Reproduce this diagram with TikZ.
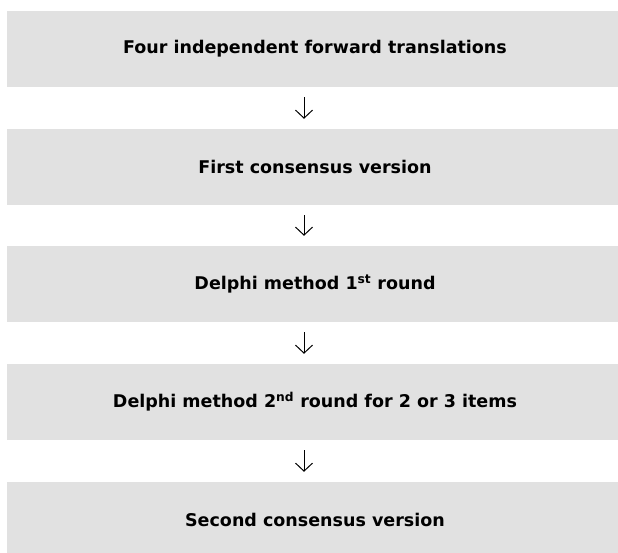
\documentclass[tikz,border=0pt]{standalone}
\usepackage{fontspec}
\setmainfont{DejaVu Sans}
\usetikzlibrary{arrows.meta}
\definecolor{boxgray}{HTML}{E1E1E1}
\begin{document}
\begin{tikzpicture}[x=1pt,y=1pt,
  stepbox/.style={fill=boxgray,draw=none,minimum width=616pt,minimum height=76pt,inner sep=0pt,
    font=\fontsize{17.5}{21}\selectfont\bfseries,text=black},
  flow/.style={draw=black,line width=1pt,shorten <=10pt,shorten >=10pt,
    -{Straight Barb[length=8pt,width=17pt,line width=1pt]}}]
\useasboundingbox (0,0) rectangle (618,552);
\begin{scope}
\clip (0,0) rectangle (618,552);
\node[stepbox] (b1) at (315,503) {Four independent forward translations};
\node[stepbox] (b2) at (315,385) {First consensus version};
\node[stepbox] (b3) at (315,268) {Delphi method 1\textsuperscript{st} round};
\node[stepbox] (b4) at (315,150) {Delphi method 2\textsuperscript{nd} round for 2 or 3 items};
\node[stepbox] (b5) at (315,32) {Second consensus version};
\end{scope}
\coordinate (ax) at (304,0);
\draw[flow] (b1.south -| ax) -- (b2.north -| ax);
\draw[flow] (b2.south -| ax) -- (b3.north -| ax);
\draw[flow] (b3.south -| ax) -- (b4.north -| ax);
\draw[flow] (b4.south -| ax) -- (b5.north -| ax);
\end{tikzpicture}
\end{document}
